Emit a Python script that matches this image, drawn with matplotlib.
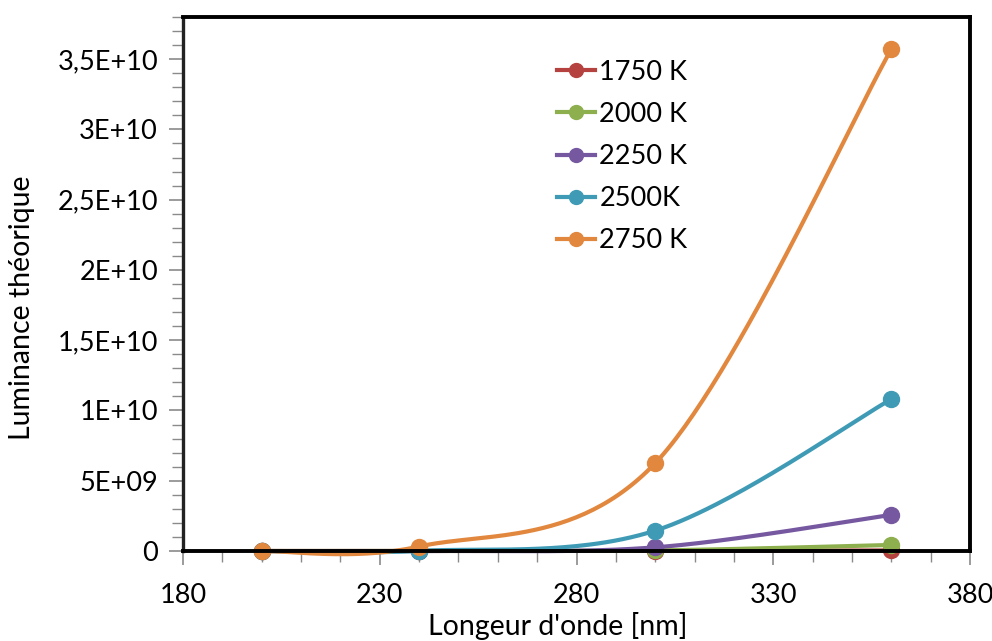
import numpy as np
import matplotlib
matplotlib.use("Agg")
import matplotlib.pyplot as plt
from matplotlib.ticker import FuncFormatter, MultipleLocator, FixedLocator
from matplotlib.lines import Line2D

wavelength = [200, 240, 300, 360]
labels = ["1750 K", "2000 K", "2250 K", "2500K", "2750 K"]
lum_1750 = [0, 0, 5e6, 4e7]
lum_2000 = [0, 0, 4e7, 4.3e8]
lum_2250 = [0, 1e6, 2.6e8, 2.57e9]
lum_2500 = [0, 1e7, 1.45e9, 1.08e10]
lum_2750 = [0, 3.2e8, 6.25e9, 3.57e10]
series = [lum_1750, lum_2000, lum_2250, lum_2500, lum_2750]
colors = ["#B5423F", "#8EAF4E", "#7658A0", "#3F9BB5", "#E2873E"]
x_ticks = [180, 230, 280, 330, 380]

plt.rcParams['font.family'] = ['Lato', 'DejaVu Sans']
FS = 19.5
LFS = 20.5


def smooth(x, y, n=60):
    # Excel-like smoothed line: Catmull-Rom as cubic Bezier segments
    x = np.asarray(x, float)
    y = np.asarray(y, float)
    px, py = [], []
    m = len(x)
    for i in range(m - 1):
        i0 = max(i - 1, 0)
        i3 = min(i + 2, m - 1)
        c1x = x[i] + (x[i + 1] - x[i0]) / 6
        c1y = y[i] + (y[i + 1] - y[i0]) / 6
        c2x = x[i + 1] - (x[i3] - x[i]) / 6
        c2y = y[i + 1] - (y[i3] - y[i]) / 6
        t = np.linspace(0, 1, n)
        bx = (1 - t) ** 3 * x[i] + 3 * (1 - t) ** 2 * t * c1x + 3 * (1 - t) * t ** 2 * c2x + t ** 3 * x[i + 1]
        by = (1 - t) ** 3 * y[i] + 3 * (1 - t) ** 2 * t * c1y + 3 * (1 - t) * t ** 2 * c2y + t ** 3 * y[i + 1]
        px.extend(bx)
        py.extend(by)
    return np.array(px), np.array(py)


fig = plt.figure(figsize=(9.92, 6.41), dpi=100)
ax = fig.add_axes([0.1845, 0.1404, 0.7933, 0.8331])

handles = []
for s, c, lab in zip(series, colors, labels):
    sx, sy = smooth(wavelength, s)
    ax.plot(sx, sy, color=c, lw=3.0, solid_capstyle='round', clip_on=False)
    ax.plot(wavelength, s, 'o', color=c, ms=11.5, clip_on=False)
    handles.append(Line2D([], [], color=c, lw=3.0, marker='o', ms=10))

ax.set_xlim(180, 380)
ax.set_ylim(0, 3.8e10)
ax.xaxis.set_major_locator(FixedLocator(x_ticks))
ax.xaxis.set_minor_locator(MultipleLocator(10))
ax.yaxis.set_major_locator(MultipleLocator(5e9))
ax.yaxis.set_minor_locator(MultipleLocator(1e9))


def yfmt(v, pos):
    if v == 0:
        return "0"
    e = int(np.floor(np.log10(abs(v)) + 1e-9))
    mant = v / 10 ** e
    ms = ("%g" % round(mant, 2)).replace('.', ',')
    return "%sE+%02d" % (ms, e)


ax.yaxis.set_major_formatter(FuncFormatter(yfmt))
ax.tick_params(axis='both', which='major', direction='out', length=10, width=1.2,
               color='#8a8a8a', labelsize=FS, pad=8)
ax.tick_params(axis='both', which='minor', direction='out', length=8, width=1.0,
               color='#8a8a8a')
ax.tick_params(axis='x', which='major', pad=13)

for side in ['top', 'right', 'bottom']:
    ax.spines[side].set_linewidth(2.8)
    ax.spines[side].set_color('black')
ax.spines['left'].set_linewidth(2.4)
ax.spines['left'].set_color('#222222')

fig.text(558 / 992, 1 - 626 / 641, "Longeur d'onde [nm]", fontsize=LFS,
         ha='center', va='center')
fig.text(22 / 992, 1 - 308 / 641, "Luminance théorique", fontsize=LFS,
         ha='center', va='center', rotation=90)

leg = ax.legend(handles, labels, loc='upper left', bbox_to_anchor=(0.462, 0.94),
                frameon=False, fontsize=FS, handlelength=1.4, handletextpad=0.15,
                labelspacing=0.63, borderaxespad=0)

fig.savefig("out.png", dpi=100)
